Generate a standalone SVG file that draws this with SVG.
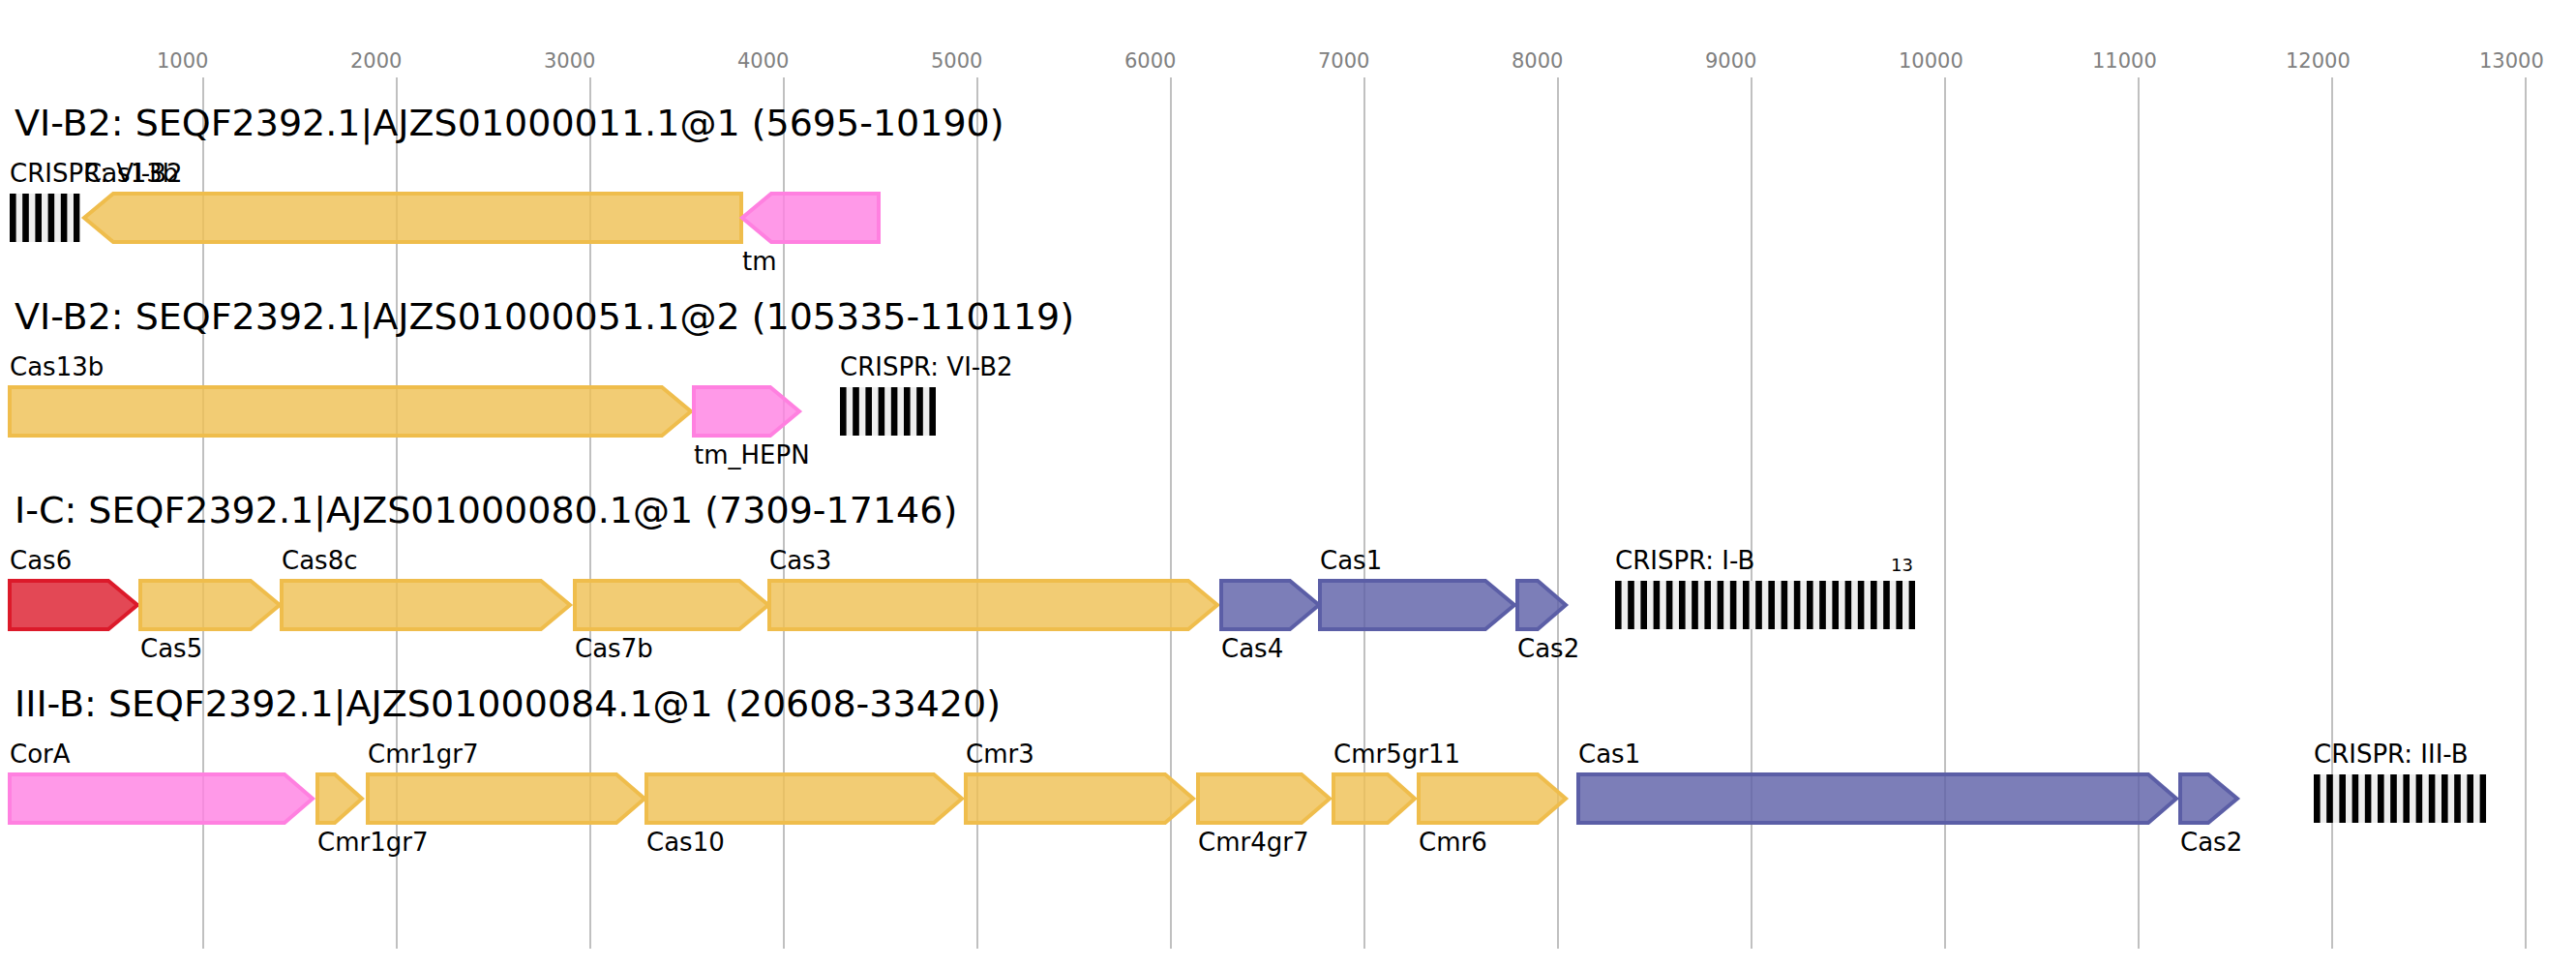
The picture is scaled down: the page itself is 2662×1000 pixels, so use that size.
<svg xmlns="http://www.w3.org/2000/svg" width="2662" height="1000" viewBox="0 0 2662 1000">
<style>
text{font-family:"DejaVu Sans","Liberation Sans",sans-serif;fill:#000}
.ax{font-size:21px;fill:#808080}
.ti{font-size:38px}
.lb{font-size:26px}
.sm{font-size:18px}
.grid line{stroke:#c0c0c0;stroke-width:2}
.g{stroke-width:4;stroke-linejoin:miter}
.y{fill:#EFBF51;fill-opacity:0.8;stroke:#EFBD4C}
.p{fill:#FF80E2;fill-opacity:0.8;stroke:#FF80E0}
.b{fill:#5B5EA6;fill-opacity:0.8;stroke:#5B5EA6}
.r{fill:#DC1A2A;fill-opacity:0.8;stroke:#DC1A2A}
</style>
<defs>
<pattern id="rep1" x="10" y="0" width="13.2" height="1000" patternUnits="userSpaceOnUse">
<rect x="0" y="0" width="6.6" height="1000" fill="#000"/>
<rect x="6.6" y="0" width="6.6" height="1000" fill="#eeeeee"/>
</pattern>
<pattern id="rep2" x="868" y="0" width="13.2" height="1000" patternUnits="userSpaceOnUse">
<rect x="0" y="0" width="6.6" height="1000" fill="#000"/>
<rect x="6.6" y="0" width="6.6" height="1000" fill="#eeeeee"/>
</pattern>
<pattern id="rep3" x="1669" y="0" width="13.2" height="1000" patternUnits="userSpaceOnUse">
<rect x="0" y="0" width="6.6" height="1000" fill="#000"/>
<rect x="6.6" y="0" width="6.6" height="1000" fill="#eeeeee"/>
</pattern>
<pattern id="rep4" x="2391" y="0" width="13.2" height="1000" patternUnits="userSpaceOnUse">
<rect x="0" y="0" width="6.6" height="1000" fill="#000"/>
<rect x="6.6" y="0" width="6.6" height="1000" fill="#eeeeee"/>
</pattern>
</defs>
<rect width="2662" height="1000" fill="#fff"/>
<g id="axis">
<g class="grid">
<line x1="210" y1="80" x2="210" y2="980"/>
<line x1="410" y1="80" x2="410" y2="980"/>
<line x1="610" y1="80" x2="610" y2="980"/>
<line x1="810" y1="80" x2="810" y2="980"/>
<line x1="1010" y1="80" x2="1010" y2="980"/>
<line x1="1210" y1="80" x2="1210" y2="980"/>
<line x1="1410" y1="80" x2="1410" y2="980"/>
<line x1="1610" y1="80" x2="1610" y2="980"/>
<line x1="1810" y1="80" x2="1810" y2="980"/>
<line x1="2010" y1="80" x2="2010" y2="980"/>
<line x1="2210" y1="80" x2="2210" y2="980"/>
<line x1="2410" y1="80" x2="2410" y2="980"/>
<line x1="2610" y1="80" x2="2610" y2="980"/>
</g>
<text class="ax" x="162" y="70">1000</text>
<text class="ax" x="362" y="70">2000</text>
<text class="ax" x="562" y="70">3000</text>
<text class="ax" x="762" y="70">4000</text>
<text class="ax" x="962" y="70">5000</text>
<text class="ax" x="1162" y="70">6000</text>
<text class="ax" x="1362" y="70">7000</text>
<text class="ax" x="1562" y="70">8000</text>
<text class="ax" x="1762" y="70">9000</text>
<text class="ax" x="1962" y="70">10000</text>
<text class="ax" x="2162" y="70">11000</text>
<text class="ax" x="2362" y="70">12000</text>
<text class="ax" x="2562" y="70">13000</text>
</g>
<g id="titles">
<text class="ti" x="15" y="140">VI-B2: SEQF2392.1|AJZS01000011.1@1 (5695-10190)</text>
<text class="ti" x="15" y="340">VI-B2: SEQF2392.1|AJZS01000051.1@2 (105335-110119)</text>
<text class="ti" x="15" y="540">I-C: SEQF2392.1|AJZS01000080.1@1 (7309-17146)</text>
<text class="ti" x="15" y="740">III-B: SEQF2392.1|AJZS01000084.1@1 (20608-33420)</text>
</g>
<g id="connectors"/>
<!-- Row 1 -->
<g id="r1-crispr"><rect x="10" y="200" width="72.6" height="50" style="fill:url(#rep1)"/><text class="lb" x="10" y="188">CRISPR: VI-B2</text></g>
<g id="r1-cas13b"><path class="g y" d="M766,200 L117,200 L87,225 L117,250 L766,250 Z"/><text class="lb" x="87" y="188">Cas13b</text></g>
<g id="r1-tm"><path class="g p" d="M908,200 L797,200 L767,225 L797,250 L908,250 Z"/><text class="lb" x="767" y="279">tm</text></g>
<!-- Row 2 -->
<g id="r2-cas13b"><path class="g y" d="M10,400 L684,400 L714,425 L684,450 L10,450 Z"/><text class="lb" x="10" y="388">Cas13b</text></g>
<g id="r2-tm-hepn"><path class="g p" d="M717,400 L796,400 L826,425 L796,450 L717,450 Z"/><text class="lb" x="717" y="479">tm_HEPN</text></g>
<g id="r2-crispr"><rect x="868" y="400" width="99" height="50" style="fill:url(#rep2)"/><text class="lb" x="868" y="388">CRISPR: VI-B2</text></g>
<!-- Row 3 -->
<g id="r3-cas6"><path class="g r" d="M10,600 L112,600 L142,625 L112,650 L10,650 Z"/><text class="lb" x="10" y="588">Cas6</text></g>
<g id="r3-cas5"><path class="g y" d="M145,600 L259,600 L289,625 L259,650 L145,650 Z"/><text class="lb" x="145" y="679">Cas5</text></g>
<g id="r3-cas8c"><path class="g y" d="M291,600 L559,600 L589,625 L559,650 L291,650 Z"/><text class="lb" x="291" y="588">Cas8c</text></g>
<g id="r3-cas7b"><path class="g y" d="M594,600 L764,600 L794,625 L764,650 L594,650 Z"/><text class="lb" x="594" y="679">Cas7b</text></g>
<g id="r3-cas3"><path class="g y" d="M795,600 L1228,600 L1258,625 L1228,650 L795,650 Z"/><text class="lb" x="795" y="588">Cas3</text></g>
<g id="r3-cas4"><path class="g b" d="M1262,600 L1333,600 L1363,625 L1333,650 L1262,650 Z"/><text class="lb" x="1262" y="679">Cas4</text></g>
<g id="r3-cas1"><path class="g b" d="M1364,600 L1535,600 L1565,625 L1535,650 L1364,650 Z"/><text class="lb" x="1364" y="588">Cas1</text></g>
<g id="r3-cas2"><path class="g b" d="M1568,600 L1589,600 L1618,625 L1589,650 L1568,650 Z"/><text class="lb" x="1568" y="679">Cas2</text></g>
<g id="r3-crispr"><rect x="1669" y="600" width="310" height="50" style="fill:url(#rep3)"/><text class="lb" x="1669" y="588">CRISPR: I-B</text><text class="sm" x="1977" y="590" text-anchor="end">13</text></g>
<!-- Row 4 -->
<g id="r4-cora"><path class="g p" d="M10,800 L294,800 L323,825 L294,850 L10,850 Z"/><text class="lb" x="10" y="788">CorA</text></g>
<g id="r4-cmr1gr7a"><path class="g y" d="M328,800 L346,800 L374,825 L346,850 L328,850 Z"/><text class="lb" x="328" y="879">Cmr1gr7</text></g>
<g id="r4-cmr1gr7b"><path class="g y" d="M380,800 L637,800 L666,825 L637,850 L380,850 Z"/><text class="lb" x="380" y="788">Cmr1gr7</text></g>
<g id="r4-cas10"><path class="g y" d="M668,800 L965,800 L994,825 L965,850 L668,850 Z"/><text class="lb" x="668" y="879">Cas10</text></g>
<g id="r4-cmr3"><path class="g y" d="M998,800 L1204,800 L1233,825 L1204,850 L998,850 Z"/><text class="lb" x="998" y="788">Cmr3</text></g>
<g id="r4-cmr4gr7"><path class="g y" d="M1238,800 L1345,800 L1374,825 L1345,850 L1238,850 Z"/><text class="lb" x="1238" y="879">Cmr4gr7</text></g>
<g id="r4-cmr5gr11"><path class="g y" d="M1378,800 L1434,800 L1462,825 L1434,850 L1378,850 Z"/><text class="lb" x="1378" y="788">Cmr5gr11</text></g>
<g id="r4-cmr6"><path class="g y" d="M1466,800 L1589,800 L1618,825 L1589,850 L1466,850 Z"/><text class="lb" x="1466" y="879">Cmr6</text></g>
<g id="r4-cas1"><path class="g b" d="M1631,800 L2220,800 L2249,825 L2220,850 L1631,850 Z"/><text class="lb" x="1631" y="788">Cas1</text></g>
<g id="r4-cas2"><path class="g b" d="M2253,800 L2282,800 L2312,825 L2282,850 L2253,850 Z"/><text class="lb" x="2253" y="879">Cas2</text></g>
<g id="r4-crispr"><rect x="2391" y="800" width="178.2" height="50" style="fill:url(#rep4)"/><text class="lb" x="2391" y="788">CRISPR: III-B</text></g>
</svg>
